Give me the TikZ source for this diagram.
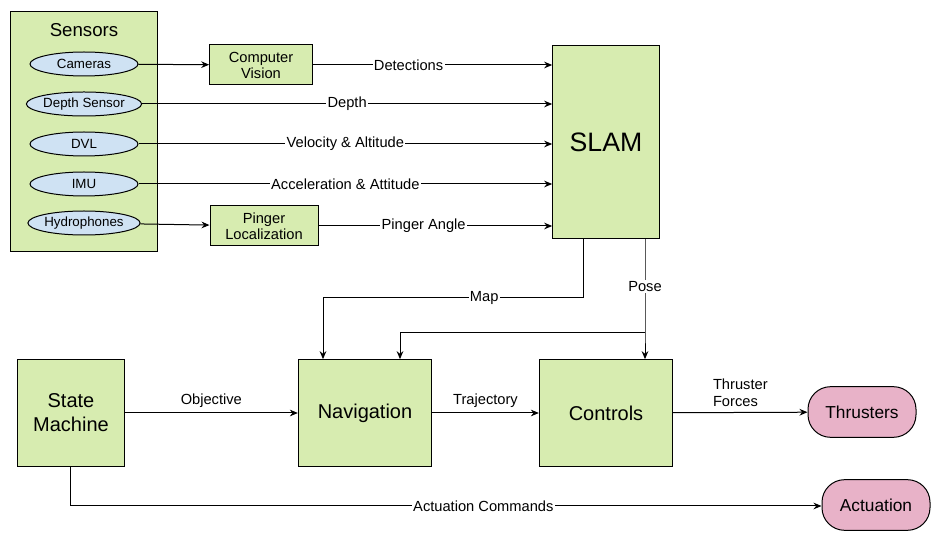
\documentclass[tikz,border=0pt]{standalone}
\usepackage{fontspec}
\setmainfont{Liberation Sans}
\usetikzlibrary{positioning,shapes.geometric,arrows.meta}
\definecolor{boxgreen}{RGB}{215,236,176}
\definecolor{ellblue}{RGB}{207,226,243}
\definecolor{outpink}{RGB}{232,178,200}
\tikzset{every picture/.style={line width=0.75pt}}
\tikzset{
  blk/.style={draw,fill=boxgreen,align=center,inner sep=0pt},
  sens/.style={draw,fill=ellblue,ellipse,minimum width=81pt,minimum height=18pt,inner sep=0pt,font=\fontsize{10}{12}\selectfont},
  outp/.style={draw,fill=outpink,rounded corners=17pt,minimum width=81pt,minimum height=38pt,font=\fontsize{13}{15}\selectfont},
  lbl/.style={fill=white,inner sep=1pt,font=\fontsize{11}{13}\selectfont},
  arr/.style={-{Stealth[length=6pt,width=5pt]}}
}
\begin{document}
\begin{tikzpicture}[x=0.75pt,y=0.75pt,yscale=-1,xscale=1]
\useasboundingbox (0,0) rectangle (943,541);

% Sensors
\draw [fill=boxgreen] (10,12) rectangle (157,252);
\node (sensors) at (84,30) {\fontsize{14}{16}\selectfont Sensors};
\node [sens] (cam) at (84,64) {Cameras};
\node [sens] (dep) at (84,104) {Depth Sensor};
\node [sens] (dvl) at (84,144) {DVL};
\node [sens] (imu) at (84,184) {IMU};
\node [sens] (hyd) at (84,223) {Hydrophones};

% Processing
\node [blk,minimum width=77pt,minimum height=30pt,font=\fontsize{11}{12}\selectfont] (cv) at (261,65) {Computer\\Vision};
\node [blk,minimum width=81pt,minimum height=30pt,font=\fontsize{11}{12}\selectfont] (pl) at (264,226) {Pinger\\Localization};
\node [blk,minimum width=80pt,minimum height=145pt,font=\fontsize{20}{22}\selectfont] (slam) at (606,142) {SLAM};

% Lower row
\node [blk,minimum width=80pt,minimum height=80pt,font=\fontsize{15}{18}\selectfont] (sm) at (71,413) {State\\Machine};
\node [blk,minimum width=100pt,minimum height=80pt,font=\fontsize{15}{18}\selectfont] (nav) at (365,413) {Navigation};
\node [blk,minimum width=100pt,minimum height=80pt,font=\fontsize{15}{18}\selectfont] (ctl) at (606,413) {Controls};
\node [outp] (thr) at (862,412) {Thrusters};
\node [outp] (act) at (876,505) {Actuation};

% Sensor links
\draw [arr] (cam) -- (cv);
\draw [arr] (hyd) -- (pl);
\draw [arr] (cv.east) -- (slam.west |- cv.east) node [lbl,pos=0.4] {Detections};
\draw [arr] (dep.east) -- (slam.west |- dep.east) node [lbl,pos=0.5] {Depth};
\draw [arr] (dvl.east) -- (slam.west |- dvl.east) node [lbl,pos=0.5] {Velocity \& Altitude};
\draw [arr] (imu.east) -- (slam.west |- imu.east) node [lbl,pos=0.5] {Acceleration \& Attitude};
\draw [arr] (pl.east) -- (slam.west |- pl.east) node [lbl,pos=0.45] {Pinger Angle};

% Map and pose
\coordinate (mapc) at (583,298);
\coordinate (posec) at (645,333);
\draw [arr] (slam.south -| mapc) -- (mapc) -- node [lbl,pos=0.38] {Map} (mapc -| 323,0) -- (nav.north -| 323,0);
\draw [arr] (slam.south -| posec) -- node [lbl,pos=0.5] {Pose} (posec) -- (ctl.north -| posec);
\draw [arr] (posec) -- (posec -| 400,0) -- (nav.north -| 400,0);

% Lower links
\draw [arr] (sm) -- (nav) node [lbl,midway,above=3pt,fill=none] {Objective};
\draw [arr] (nav) -- (ctl) node [lbl,midway,above=3pt,fill=none] {Trajectory};
\draw [arr] (ctl) -- (thr) node [lbl,midway,above=3pt,fill=none,align=left] {Thruster\\Forces};
\coordinate (actc) at (70,506);
\draw [arr] (sm.south -| actc) -- (actc) -- node [lbl,pos=0.55] {Actuation Commands} (act.west |- actc);
\end{tikzpicture}
\end{document}
